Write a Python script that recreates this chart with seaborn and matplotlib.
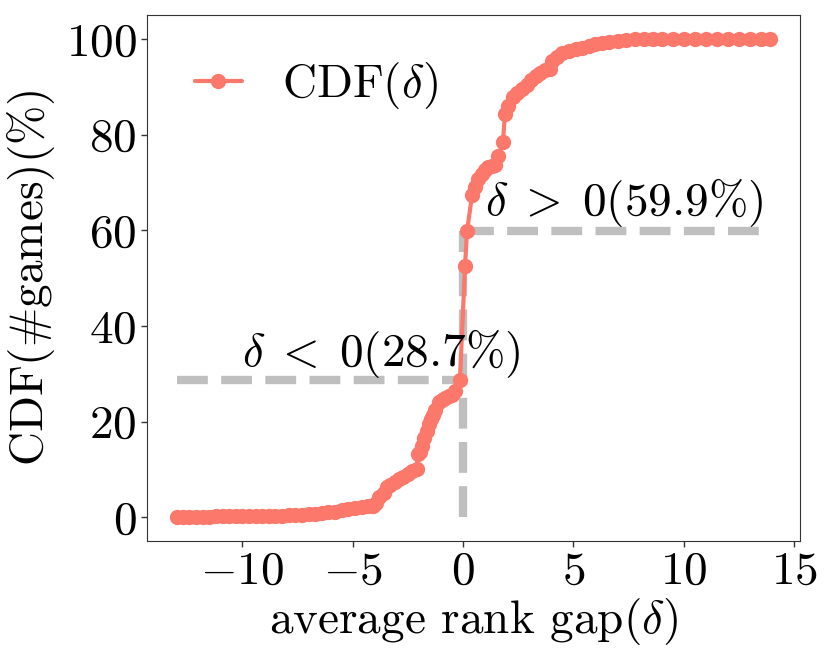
import numpy as np
import pandas as pd
import matplotlib
matplotlib.use("Agg")
import matplotlib.pyplot as plt
import seaborn as sns

# values
gap = [-12.98, -12.7, -12.4, -12.1, -11.8, -11.5, -11.2, -10.9, -10.6, -10.3,
       -10.0, -9.7, -9.4, -9.1, -8.8, -8.5, -8.2, -7.9, -7.6, -7.3,
       -7.0, -6.7, -6.4, -6.1, -5.8, -5.5, -5.2, -4.9, -4.6, -4.3,
       -4.1, -3.95, -3.8, -3.6, -3.45, -3.3, -3.1, -2.9, -2.7, -2.5,
       -2.3, -2.1, -2.04, -1.95, -1.85, -1.75, -1.65, -1.55, -1.45, -1.35,
       -1.25, -1.1, -0.95, -0.8, -0.65, -0.5, -0.35, -0.14,
       0.09, 0.18, 0.41, 0.55, 0.68, 0.85, 1.0, 1.15, 1.3, 1.45,
       1.6, 1.81, 1.9, 2.05, 2.27, 2.45, 2.65, 2.9, 3.1, 3.3,
       3.5, 3.7, 3.95, 4.04, 4.25, 4.5, 4.8, 5.1, 5.4, 5.7,
       6.0, 6.3, 6.6, 7.0, 7.4, 7.8, 8.2, 8.6, 9.0, 9.5,
       10.0, 10.5, 11.0, 11.5, 12.0, 12.5, 13.0, 13.5, 13.93]
cdf = [0.05, 0.1, 0.1, 0.15, 0.15, 0.15, 0.2, 0.2, 0.2, 0.25,
       0.25, 0.25, 0.3, 0.3, 0.3, 0.35, 0.35, 0.4, 0.45, 0.5,
       0.6, 0.7, 0.8, 1.0, 1.2, 1.5, 1.8, 2.0, 2.2, 2.3,
       2.4, 3.0, 4.2, 5.0, 6.3, 6.8, 7.4, 7.9, 8.5, 9.0,
       9.6, 10.1, 13.3, 13.7, 15.0, 16.5, 18.1, 19.5, 20.6, 21.3,
       22.5, 24.2, 24.6, 25.0, 25.3, 25.5, 26.5, 28.7,
       52.6, 59.8, 67.4, 69.0, 70.7, 71.8, 72.6, 73.2, 73.5, 73.7,
       75.5, 78.5, 84.4, 86.0, 88.0, 88.8, 89.6, 90.5, 91.4, 92.2,
       93.0, 93.5, 93.7, 95.4, 96.3, 97.1, 97.6, 97.9, 98.2, 98.5,
       98.9, 99.2, 99.5, 99.7, 99.8, 100.0, 100.0, 100.0, 100.0, 100.0,
       100.0, 100.0, 100.0, 100.0, 100.0, 100.0, 100.0, 100.0, 100.0]

neg_share = 28.7
pos_share = 59.9

df = pd.DataFrame({"gap": gap, "cdf": cdf})

sns.set_style("ticks")
plt.rcParams["font.family"] = "serif"
plt.rcParams["font.serif"] = ["cmr10"]
plt.rcParams["mathtext.fontset"] = "cm"
plt.rcParams["axes.formatter.use_mathtext"] = True
plt.rcParams["axes.edgecolor"] = "#333333"
plt.rcParams["text.color"] = "black"
plt.rcParams["axes.labelcolor"] = "black"
plt.rcParams["xtick.color"] = "#333333"
plt.rcParams["ytick.color"] = "#333333"
plt.rcParams["xtick.labelcolor"] = "black"
plt.rcParams["ytick.labelcolor"] = "black"

fs = 34

fig = plt.figure(figsize=(8.3, 6.64), dpi=100)
ax = fig.add_axes([0.177, 0.185, 0.787, 0.792])

# reference lines
ax.plot([gap[0], 0], [neg_share, neg_share], ls="--", lw=6, color="#bfbfbf")
ax.plot([0, 0], [0, pos_share], ls="--", lw=6, color="#bfbfbf")
ax.plot([0, gap[-1]], [pos_share, pos_share], ls="--", lw=6, color="#bfbfbf")

sns.lineplot(data=df, x="gap", y="cdf", ax=ax, estimator=None, sort=False,
             color="#fc786b", marker="o", markersize=11, markeredgewidth=0,
             linewidth=3, label=r"CDF($\delta$)")

ax.text(1.0, pos_share + 0.4, r"$\delta\;>\;0(59.9\%)$", fontsize=fs,
        ha="left", va="bottom")
ax.text(-10.0, neg_share + 0.1, r"$\delta\;<\;0(28.7\%)$", fontsize=fs,
        ha="left", va="bottom")

ax.set_xlabel(r"average rank gap($\delta$)", fontsize=fs, labelpad=2)
ax.set_ylabel(r"CDF($\#$games)($\%$)", fontsize=fs, labelpad=6)
ax.set_xticks([-10, -5, 0, 5, 10, 15])
ax.set_yticks([0, 20, 40, 60, 80, 100])
ax.tick_params(labelsize=fs, length=4, width=1)
ax.legend(loc="upper left", frameon=False, fontsize=fs, handlelength=1.0,
          handletextpad=0.85, bbox_to_anchor=(0.008, 0.995))

fig.savefig("out.png", dpi=100)
